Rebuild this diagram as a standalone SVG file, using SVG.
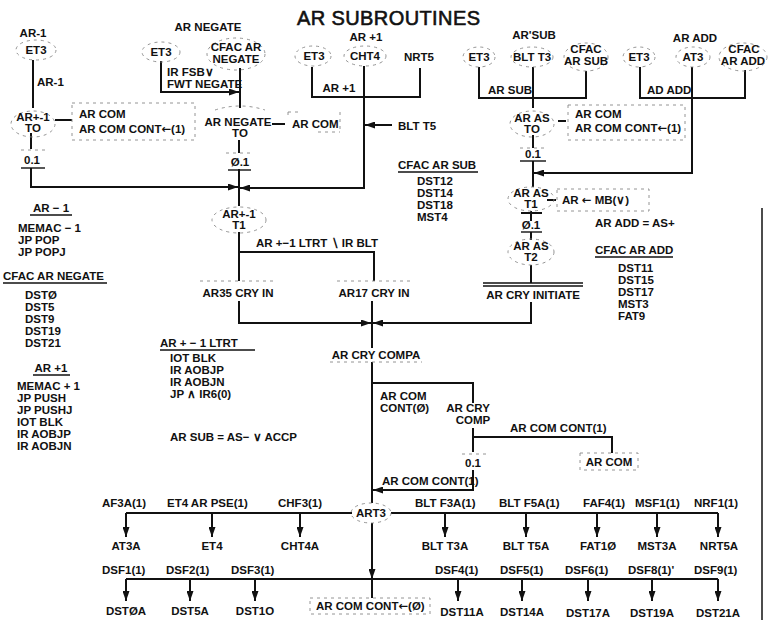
<svg xmlns="http://www.w3.org/2000/svg" width="771" height="620" viewBox="0 0 771 620">
<style>
text{font-family:"Liberation Sans",Arial,sans-serif;font-size:11.5px;font-weight:bold;fill:#111}
.m{text-anchor:middle}
.ar{font-family:"DejaVu Sans",sans-serif;font-weight:bold}
.ln{fill:none;stroke:#111;stroke-width:2}
.ul{fill:none;stroke:#111;stroke-width:1.4}
.ds{fill:none;stroke:#888;stroke-width:0.9;stroke-dasharray:3 4}
.title{font-size:20px;font-weight:normal;stroke:#111;stroke-width:0.6}
</style>
<defs>
<marker id="ah" viewBox="0 0 10 7" refX="10" refY="3.5" markerWidth="10" markerHeight="7" markerUnits="userSpaceOnUse" orient="auto">
<path d="M0,0 L10,3.5 L0,7 z" fill="#111"/>
</marker>
</defs>
<rect width="771" height="620" fill="#fff"/>
<text x="297" y="25" class="title" textLength="183" lengthAdjust="spacing">AR SUBROUTINES</text>

<g id="connectors">
<path class="ln" d="M33,60 V108"/>
<path class="ln" d="M55,120 H72"/>
<path class="ln" d="M31,133 V149"/>
<path class="ln" d="M31,168 V187 H238" marker-end="url(#ah)"/>
<path class="ln" d="M161,61 V92 H239" marker-end="url(#ah)"/>
<path class="ln" d="M240,68 V108"/>
<path class="ln" d="M272,124 H285"/>
<path class="ln" d="M239,140 V153"/>
<path class="ln" d="M239,169 V206"/>
<path class="ln" d="M364,66 V188 H240" marker-end="url(#ah)"/>
<path class="ln" d="M392,125 H365" marker-end="url(#ah)"/>
<path class="ln" d="M312,67 V97 H420 V68"/>
<path class="ln" d="M479,67 V98 H586 V71"/>
<path class="ln" d="M533,67 V108"/>
<path class="ln" d="M558,121 H566"/>
<path class="ln" d="M533,135 V148"/>
<path class="ln" d="M533,161 V187"/>
<path class="ln" d="M640,67 V98 H745 V70"/>
<path class="ln" d="M692,67 V173 H534" marker-end="url(#ah)"/>
<path class="ln" d="M547,200 H556"/>
<path class="ln" d="M531,211 V221"/>
<path class="ln" d="M521,213 H542"/>
<path class="ln" d="M531,232 V240"/>
<path class="ln" d="M531,265 V283"/>
<path class="ln" d="M531,302 V323 H373" marker-end="url(#ah)"/>
<path class="ln" d="M239,232 V281"/>
<path class="ln" d="M239,252 H374 V281"/>
<path class="ln" d="M239,301 V323 H371" marker-end="url(#ah)"/>
<path class="ln" d="M372,301 V348"/>
<path class="ln" d="M372,362 V503"/>
<path class="ln" d="M372,383 H473 V403"/>
<path class="ln" d="M473,428 V452"/>
<path class="ln" d="M473,437 H612 V453"/>
<path class="ln" d="M473,470 V490 H373" marker-end="url(#ah)"/>
<path class="ln" d="M126,513 H352"/>
<path class="ln" d="M391,513 H718"/>
<path class="ln" d="M126,513 V537" marker-end="url(#ah)"/>
<path class="ln" d="M212,513 V537" marker-end="url(#ah)"/>
<path class="ln" d="M300,513 V537" marker-end="url(#ah)"/>
<path class="ln" d="M445,513 V537" marker-end="url(#ah)"/>
<path class="ln" d="M526,513 V537" marker-end="url(#ah)"/>
<path class="ln" d="M597,513 V537" marker-end="url(#ah)"/>
<path class="ln" d="M657,513 V537" marker-end="url(#ah)"/>
<path class="ln" d="M718,513 V537" marker-end="url(#ah)"/>
<path class="ln" d="M372,523 V579" marker-end="url(#ah)"/>
<path class="ln" d="M372,579 V598"/>
<path class="ln" d="M126,579 H718"/>
<path class="ln" d="M126,579 V601" marker-end="url(#ah)"/>
<path class="ln" d="M190,579 V601" marker-end="url(#ah)"/>
<path class="ln" d="M255,579 V601" marker-end="url(#ah)"/>
<path class="ln" d="M458,579 V601" marker-end="url(#ah)"/>
<path class="ln" d="M522,579 V601" marker-end="url(#ah)"/>
<path class="ln" d="M588,579 V601" marker-end="url(#ah)"/>
<path class="ln" d="M652,579 V601" marker-end="url(#ah)"/>
<path class="ln" d="M718,579 V601" marker-end="url(#ah)"/>
<path class="ln" d="M762,208 V620" style="stroke-width:1.5"/>
<text x="37" y="86">AR-1</text>
<text x="167" y="76">IR FSB∨</text>
<text x="167" y="88">FWT NEGATE</text>
<text x="339" y="92" class="m">AR +1</text>
<text x="488" y="94">AR SUB</text>
<text x="647" y="94">AD ADD</text>
<text x="256" y="247">AR +−1 LTRT ∖ IR BLT</text>
<text x="380" y="400">AR COM</text>
<text x="380" y="412">CONT(Ø)</text>
<text x="510" y="432">AR COM CONT(1)</text>
<text x="382" y="485">AR COM CONT(1)</text>
<text x="102" y="507">AF3A(1)</text>
<text x="167" y="507">ET4 AR PSE(1)</text>
<text x="278" y="507">CHF3(1)</text>
<text x="415" y="507">BLT F3A(1)</text>
<text x="499" y="507">BLT F5A(1)</text>
<text x="583" y="507">FAF4(1)</text>
<text x="635" y="507">MSF1(1)</text>
<text x="694" y="507">NRF1(1)</text>
<text x="102" y="574">DSF1(1)</text>
<text x="166" y="574">DSF2(1)</text>
<text x="231" y="574">DSF3(1)</text>
<text x="435" y="574">DSF4(1)</text>
<text x="500" y="574">DSF5(1)</text>
<text x="565" y="574">DSF6(1)</text>
<text x="628" y="574">DSF8(1)'</text>
<text x="694" y="574">DSF9(1)</text>
</g>

<g id="ar-minus-1-et3">
<text x="33" y="37" class="m">AR-1</text>
<ellipse class="ds" cx="36" cy="50" rx="20" ry="10"/>
<text x="36" y="54" class="m">ET3</text>
</g>
<g id="ar-pm1-t0">
<ellipse class="ds" cx="33" cy="124" rx="22" ry="13"/>
<text x="33" y="121" class="m">AR+-1</text>
<text x="33" y="132" class="m">TO</text>
</g>
<g id="box-arcom-1">
<rect class="ds" x="72" y="103" width="123" height="37"/>
<text x="79" y="118">AR COM</text>
<text x="79" y="133">AR COM CONT<tspan class="ar">←</tspan>(1)</text>
</g>
<g id="q01-a">
<path class="ds" d="M21,150 H45"/>
<text x="32" y="164" class="m">0.1</text>
<path class="ul" d="M21,168 H45"/>
</g>
<g id="ar-negate">
<text x="208" y="31" class="m">AR NEGATE</text>
<ellipse class="ds" cx="161" cy="52" rx="19" ry="10"/>
<text x="161" y="56" class="m">ET3</text>
<ellipse class="ds" cx="236" cy="54" rx="29" ry="16"/>
<text x="236" y="51" class="m">CFAC AR</text>
<text x="236" y="63" class="m">NEGATE</text>
</g>
<g id="ar-negate-t0">
<path class="ds" d="M215,110 Q240,102 265,110"/>
<text x="238" y="126" class="m">AR NEGATE</text>
<text x="240" y="137" class="m">TO</text>
</g>
<g id="box-arcom-2">
<path class="ds" d="M288,112 H302 M288,112 V118 M318,132 H340 M340,112 V132"/>
<text x="292" y="128">AR COM</text>
</g>
<g id="q01-b">
<path class="ds" d="M226,153 H252"/>
<text x="240" y="166" class="m">Ø.1</text>
<path class="ul" d="M228,170 H251"/>
</g>
<g id="ar-pm1-t1">
<ellipse class="ds" cx="239" cy="220" rx="27" ry="13"/>
<text x="239" y="218" class="m">AR+-1</text>
<text x="239" y="229" class="m">T1</text>
</g>
<g id="ar-plus-1">
<text x="366" y="41" class="m">AR +1</text>
<ellipse class="ds" cx="313" cy="56" rx="18" ry="10"/>
<text x="314" y="60" class="m">ET3</text>
<ellipse class="ds" cx="365" cy="56" rx="21" ry="10"/>
<text x="365" y="60" class="m">CHT4</text>
<text x="419" y="61" class="m">NRT5</text>
</g>
<g id="blt-t5">
<text x="398" y="130">BLT T5</text>
</g>
<g id="ar-sub">
<text x="534" y="39" class="m">AR'SUB</text>
<ellipse class="ds" cx="479" cy="57" rx="16" ry="10"/>
<text x="479" y="61" class="m">ET3</text>
<ellipse class="ds" cx="532" cy="57" rx="21" ry="10"/>
<text x="532" y="61" class="m">BLT T3</text>
<ellipse class="ds" cx="586" cy="57" rx="22" ry="14"/>
<text x="586" y="53" class="m">CFAC</text>
<text x="586" y="65" class="m">AR SUB</text>
</g>
<g id="ar-add">
<text x="695" y="42" class="m">AR ADD</text>
<ellipse class="ds" cx="639" cy="57" rx="16" ry="10"/>
<text x="639" y="61" class="m">ET3</text>
<ellipse class="ds" cx="693" cy="57" rx="17" ry="10"/>
<text x="693" y="61" class="m">AT3</text>
<ellipse class="ds" cx="743" cy="57" rx="24" ry="14"/>
<text x="744" y="53" class="m">CFAC</text>
<text x="743" y="65" class="m">AR ADD</text>
</g>
<g id="ar-as-t0">
<ellipse class="ds" cx="532" cy="124" rx="22" ry="13"/>
<text x="532" y="122" class="m">AR AS</text>
<text x="532" y="133" class="m">TO</text>
</g>
<g id="box-arcom-3">
<rect class="ds" x="568" y="105" width="117" height="35"/>
<text x="575" y="118">AR COM</text>
<text x="575" y="132">AR COM CONT<tspan class="ar">←</tspan>(1)</text>
</g>
<g id="q01-c">
<path class="ds" d="M520,148 H546"/>
<text x="533" y="158" class="m">0.1</text>
<path class="ul" d="M520,161 H546"/>
</g>
<g id="ar-as-t1">
<ellipse class="ds" cx="531" cy="199" rx="23" ry="12"/>
<text x="531" y="197" class="m">AR AS</text>
<text x="531" y="208" class="m">T1</text>
</g>
<g id="box-ar-mb">
<rect class="ds" x="557" y="189" width="92" height="22"/>
<text x="562" y="204">AR <tspan class="ar">←</tspan> MB(∨)</text>
</g>
<g id="q01-d">
<text x="531" y="229" class="m">Ø.1</text>
<path class="ul" d="M521,232 H542"/>
</g>
<g id="ar-as-t2">
<ellipse class="ds" cx="531" cy="252" rx="23" ry="13"/>
<text x="531" y="250" class="m">AR AS</text>
<text x="531" y="261" class="m">T2</text>
</g>
<g id="ar-cry-initiate">
<path class="ul" d="M483,283 H583 M483,286 H583"/>
<text x="533" y="299" class="m">AR CRY INITIATE</text>
</g>
<g id="ar35-cry-in">
<path class="ds" d="M200,281 H276"/>
<text x="238" y="297" class="m">AR35 CRY IN</text>
</g>
<g id="ar17-cry-in">
<path class="ds" d="M337,281 H411"/>
<text x="374" y="297" class="m">AR17 CRY IN</text>
</g>
<g id="ar-cry-compa">
<text x="376" y="359" class="m">AR CRY COMPA</text>
<path class="ds" d="M330,362 H422"/>
</g>
<g id="ar-cry-comp">
<text x="468" y="412" class="m">AR CRY</text>
<text x="473" y="424" class="m">COMP</text>
</g>
<g id="q01-e">
<path class="ds" d="M462,454 H486"/>
<text x="473" y="467" class="m">0.1</text>
</g>
<g id="box-arcom-4">
<path class="ds" d="M580,453 V470 H638 V453 H580"/>
<text x="609" y="466" class="m">AR COM</text>
</g>
<g id="art3">
<ellipse class="ds" cx="371" cy="513" rx="20" ry="10"/>
<text x="371" y="517" class="m">ART3</text>
</g>
<g id="targets-row1">
<text x="126" y="550" class="m">AT3A</text>
<text x="212" y="550" class="m">ET4</text>
<text x="300" y="550" class="m">CHT4A</text>
<text x="445" y="550" class="m">BLT T3A</text>
<text x="526" y="550" class="m">BLT T5A</text>
<text x="598" y="550" class="m">FAT1Ø</text>
<text x="657" y="550" class="m">MST3A</text>
<text x="719" y="550" class="m">NRT5A</text>
</g>
<g id="targets-row2">
<text x="126" y="615" class="m">DSTØA</text>
<text x="190" y="615" class="m">DST5A</text>
<text x="255" y="615" class="m">DST1O</text>
<text x="462" y="616" class="m">DST11A</text>
<text x="522" y="616" class="m">DST14A</text>
<text x="588" y="617" class="m">DST17A</text>
<text x="652" y="617" class="m">DST19A</text>
<text x="718" y="617" class="m">DST21A</text>
</g>
<g id="box-arcom-cont0">
<path class="ds" d="M310,598 H430 V614 H310 Z"/>
<text x="316" y="610">AR COM CONT<tspan class="ar">←</tspan>(Ø)</text>
</g>
<g id="note-ar-minus-1">
<text x="51" y="212" class="m">AR − 1</text>
<path class="ul" d="M30,215 H72"/>
<text x="18" y="232">MEMAC − 1</text>
<text x="18" y="244">JP POP</text>
<text x="18" y="256">JP POPJ</text>
</g>
<g id="note-cfac-ar-negate">
<text x="3" y="280">CFAC AR NEGATE</text>
<path class="ul" d="M3,283 H107"/>
<text x="25" y="299">DSTØ</text>
<text x="25" y="311">DST5</text>
<text x="25" y="323">DST9</text>
<text x="25" y="335">DST19</text>
<text x="25" y="347">DST21</text>
</g>
<g id="note-ar-plus-1">
<text x="51" y="372" class="m">AR +1</text>
<path class="ul" d="M33,375 H70"/>
<text x="17" y="390">MEMAC + 1</text>
<text x="17" y="402">JP PUSH</text>
<text x="17" y="414">JP PUSHJ</text>
<text x="17" y="426">IOT BLK</text>
<text x="17" y="438">IR AOBJP</text>
<text x="17" y="450">IR AOBJN</text>
</g>
<g id="note-ltrt">
<text x="160" y="347">AR + − 1 LTRT</text>
<path class="ul" d="M160,350 H255"/>
<text x="170" y="362">IOT BLK</text>
<text x="170" y="374">IR AOBJP</text>
<text x="170" y="386">IR AOBJN</text>
<text x="170" y="398">JP ∧ IR6(0)</text>
</g>
<g id="note-ar-sub-eq">
<text x="170" y="441">AR SUB = AS− ∨ ACCP</text>
</g>
<g id="note-cfac-ar-sub">
<text x="398" y="169">CFAC AR SUB</text>
<path class="ul" d="M398,172 H478"/>
<text x="417" y="185">DST12</text>
<text x="417" y="197">DST14</text>
<text x="417" y="209">DST18</text>
<text x="417" y="221">MST4</text>
</g>
<g id="note-ar-add">
<text x="595" y="227">AR ADD = AS+</text>
<text x="595" y="254">CFAC AR ADD</text>
<path class="ul" d="M595,257 H673"/>
<text x="618" y="272">DST11</text>
<text x="618" y="284">DST15</text>
<text x="618" y="296">DST17</text>
<text x="618" y="308">MST3</text>
<text x="618" y="320">FAT9</text>
</g>
</svg>
